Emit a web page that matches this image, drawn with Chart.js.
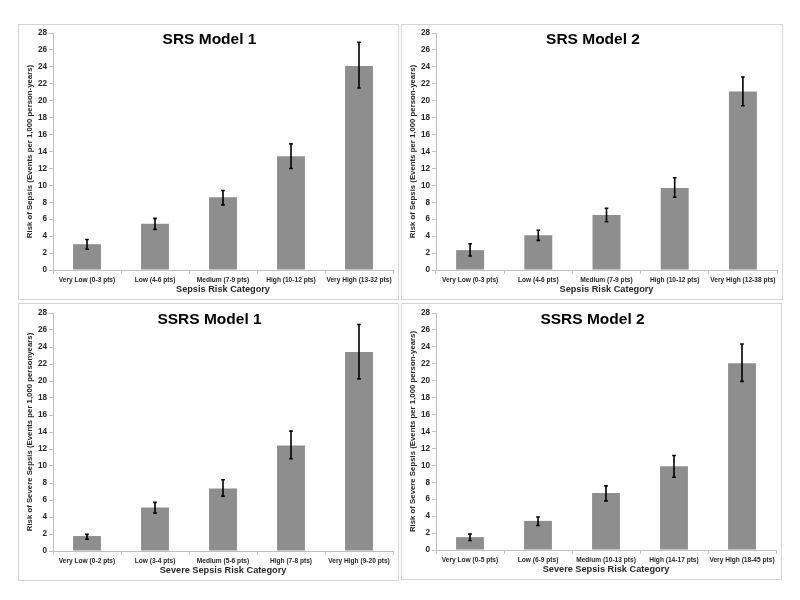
<!DOCTYPE html>
<html>
<head>
<meta charset="utf-8">
<script src="https://cdn.jsdelivr.net/npm/chart.js@4"></script>
<style>
  body { margin: 0; background: #fff; width: 800px; height: 600px; position: relative; font-family: "Liberation Sans", Arial, sans-serif; }
  .panel { position: absolute; box-sizing: border-box; border: 1px solid #d4d4d4; }
  .panel canvas { position: absolute; left: -1px; top: -1px; }
</style>
</head>
<body>
<div class="panel" style="left:18px;top:24px;width:381px;height:276px"><canvas id="c1" width="381" height="276"></canvas></div>
<div class="panel" style="left:401px;top:24px;width:382px;height:276px"><canvas id="c2" width="382" height="276"></canvas></div>
<div class="panel" style="left:18px;top:303px;width:381px;height:278px"><canvas id="c3" width="381" height="278"></canvas></div>
<div class="panel" style="left:401px;top:303px;width:381px;height:277px"><canvas id="c4" width="381" height="277"></canvas></div>
<script>
// SRS Model 1
const srs1Labels = ["Very Low (0-3 pts)", "Low (4-6 pts)", "Medium (7-9 pts)", "High (10-12 pts)", "Very High (13-32 pts)"];
const srs1Values = [3.05, 5.45, 8.6, 13.45, 24.1];
const srs1Lower = [2.45, 4.8, 7.7, 12.0, 21.5];
const srs1Upper = [3.6, 6.1, 9.4, 14.9, 26.9];

// SRS Model 2
const srs2Labels = ["Very Low (0-3 pts)", "Low (4-6 pts)", "Medium (7-9 pts)", "High (10-12 pts)", "Very High (12-38 pts)"];
const srs2Values = [2.35, 4.1, 6.5, 9.7, 21.1];
const srs2Lower = [1.65, 3.5, 5.7, 8.6, 19.4];
const srs2Upper = [3.1, 4.7, 7.3, 10.9, 22.8];

// SSRS Model 1
const ssrs1Labels = ["Very Low (0-2 pts)", "Low (3-4 pts)", "Medium (5-6 pts)", "High (7-8 pts)", "Very High (9-20 pts)"];
const ssrs1Values = [1.76, 5.13, 7.36, 12.4, 23.4];
const ssrs1Lower = [1.4, 4.46, 6.46, 10.85, 20.25];
const ssrs1Upper = [1.96, 5.72, 8.38, 14.1, 26.65];

// SSRS Model 2
const ssrs2Labels = ["Very Low (0-5 pts)", "Low (6-9 pts)", "Medium (10-13 pts)", "High (14-17 pts)", "Very High (18-45 pts)"];
const ssrs2Values = [1.52, 3.44, 6.72, 9.88, 22.07];
const ssrs2Lower = [1.13, 2.9, 5.8, 8.6, 19.92];
const ssrs2Upper = [1.87, 3.9, 7.58, 11.17, 24.34];

const yTicks = [0, 2, 4, 6, 8, 10, 12, 14, 16, 18, 20, 22, 24, 26, 28];

const FONT = "'Liberation Sans', Arial, sans-serif";
const axisGray = "#bfbfbf";
const textColor = "#262626";

// error bars drawn through the y scale
const errorBars = {
    id: "errorBars",
    afterDatasetsDraw(chart, args, opts) {
        const ctx = chart.ctx;
        const meta = chart.getDatasetMeta(0);
        const y = chart.scales.y;
        ctx.save();
        ctx.strokeStyle = "#000";
        ctx.lineWidth = 1.6;
        meta.data.forEach((bar, i) => {
            const top = y.getPixelForValue(opts.upper[i]);
            const bot = y.getPixelForValue(opts.lower[i]);
            ctx.beginPath();
            ctx.moveTo(bar.x, top);
            ctx.lineTo(bar.x, bot);
            ctx.moveTo(bar.x - 1.8, top);
            ctx.lineTo(bar.x + 1.8, top);
            ctx.moveTo(bar.x - 1.8, bot);
            ctx.lineTo(bar.x + 1.8, bot);
            ctx.stroke();
        });
        ctx.restore();
    }
};

// chart title drawn inside the plot area
const innerTitle = {
    id: "innerTitle",
    afterDraw(chart, args, opts) {
        const ctx = chart.ctx;
        ctx.save();
        ctx.font = "bold 15.5px " + FONT;
        ctx.fillStyle = "#000";
        ctx.textAlign = "center";
        ctx.textBaseline = "middle";
        ctx.fillText(opts.text, chart.width / 2 + 1, opts.y);
        ctx.restore();
    }
};

function makeChart(id, title, topPad, labels, values, lower, upper, yTitle, xTitle) {
    new Chart(document.getElementById(id), {
        type: "bar",
        data: {
            labels: labels,
            datasets: [{
                data: values,
                backgroundColor: "#8e8e8e",
                borderWidth: 0,
                barPercentage: 0.41,
                categoryPercentage: 1
            }]
        },
        options: {
            responsive: false,
            animation: false,
            layout: { padding: { top: topPad, right: 6, left: 0, bottom: 0 } },
            plugins: {
                legend: { display: false },
                tooltip: { enabled: false },
                errorBars: { lower: lower, upper: upper },
                innerTitle: { text: title, y: topPad + 7 }
            },
            scales: {
                x: {
                    grid: { display: true, drawOnChartArea: false, offset: true, color: axisGray, tickLength: 4 },
                    border: { color: axisGray },
                    ticks: { font: { family: FONT, size: 6.6, weight: "bold" }, color: textColor, maxRotation: 0, autoSkip: false, padding: 2 },
                    title: { display: true, text: xTitle, font: { family: FONT, size: 9.2, weight: "bold" }, color: textColor, padding: { top: 2, bottom: 5 } },
                    afterFit(scale) { scale.height = 30; }
                },
                y: {
                    min: 0,
                    max: 28,
                    afterBuildTicks(scale) { scale.ticks = yTicks.map(v => ({ value: v })); },
                    grid: { display: true, drawOnChartArea: false, color: axisGray, tickLength: 4 },
                    border: { color: axisGray },
                    ticks: { font: { family: FONT, size: 8.2, weight: "bold" }, color: textColor, padding: 2 },
                    title: { display: true, text: yTitle, font: { family: FONT, size: 7.8, weight: "bold" }, color: textColor, padding: { top: 7, bottom: 0 } },
                    afterFit(scale) { scale.width = 35; }
                }
            }
        },
        plugins: [errorBars, innerTitle]
    });
}

makeChart("c1", "SRS Model 1", 9, srs1Labels, srs1Values, srs1Lower, srs1Upper,
    "Risk of Sepsis (Events per 1,000 person-years)", "Sepsis Risk Category");
makeChart("c2", "SRS Model 2", 9, srs2Labels, srs2Values, srs2Lower, srs2Upper,
    "Risk of Sepsis (Events per 1,000 person-years)", "Sepsis Risk Category");
makeChart("c3", "SSRS Model 1", 10, ssrs1Labels, ssrs1Values, ssrs1Lower, ssrs1Upper,
    "Risk of Severe Sepsis (Events per 1,000 personyears)", "Severe Sepsis Risk Category");
makeChart("c4", "SSRS Model 2", 10, ssrs2Labels, ssrs2Values, ssrs2Lower, ssrs2Upper,
    "Risk of Severe Sepsis (Events per 1,000 person-years)", "Severe Sepsis Risk Category");
</script>
</body>
</html>
